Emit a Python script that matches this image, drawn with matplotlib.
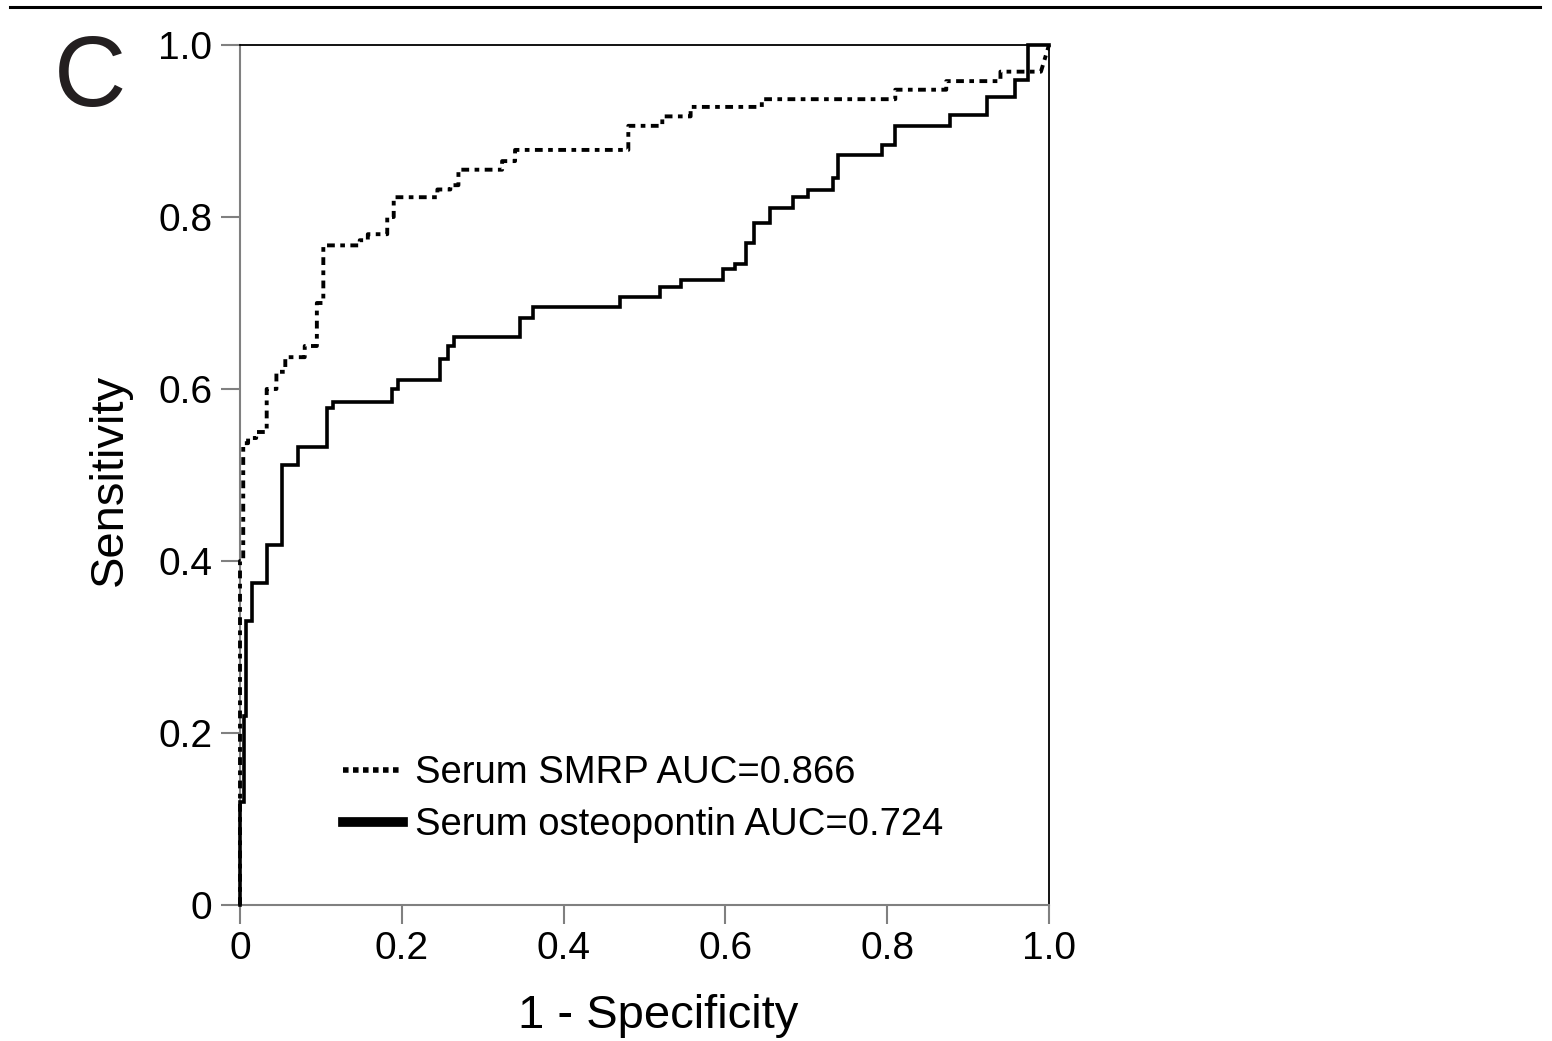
import matplotlib
matplotlib.use("Agg")
import matplotlib.pyplot as plt
from matplotlib.lines import Line2D

plt.rcParams["font.family"] = ["Liberation Sans", "DejaVu Sans"]

# ROC corner points (1 - specificity, sensitivity)
smrp_fpr = [0, 0, 0.004, 0.004, 0.01, 0.01, 0.02, 0.02, 0.033, 0.033, 0.045,
            0.045, 0.056, 0.056, 0.08, 0.08, 0.095, 0.095, 0.103, 0.103,
            0.148, 0.148, 0.158, 0.158, 0.182, 0.182, 0.19, 0.19, 0.244,
            0.244, 0.26, 0.26, 0.27, 0.27, 0.324, 0.324, 0.34, 0.34, 0.48,
            0.48, 0.522, 0.522, 0.557, 0.557, 0.645, 0.645, 0.81, 0.81, 0.873,
            0.873, 0.94, 0.94, 0.99, 1.0]
smrp_tpr = [0, 0.4, 0.4, 0.537, 0.537, 0.543, 0.543, 0.55, 0.55, 0.6, 0.6,
            0.62, 0.62, 0.637, 0.637, 0.65, 0.65, 0.7, 0.7, 0.767, 0.767,
            0.773, 0.773, 0.78, 0.78, 0.8, 0.8, 0.823, 0.823, 0.832, 0.832,
            0.837, 0.837, 0.855, 0.855, 0.865, 0.865, 0.878, 0.878, 0.906,
            0.906, 0.917, 0.917, 0.928, 0.928, 0.937, 0.937, 0.948, 0.948,
            0.958, 0.958, 0.969, 0.969, 1.0]

opn_fpr = [0, 0, 0.005, 0.005, 0.007, 0.007, 0.015, 0.015, 0.033, 0.033,
           0.052, 0.052, 0.072, 0.072, 0.108, 0.108, 0.115, 0.115, 0.188,
           0.188, 0.195, 0.195, 0.247, 0.247, 0.257, 0.257, 0.265, 0.265,
           0.346, 0.346, 0.362, 0.362, 0.47, 0.47, 0.519, 0.519, 0.545, 0.545,
           0.597, 0.597, 0.612, 0.612, 0.625, 0.625, 0.635, 0.635, 0.655,
           0.655, 0.684, 0.684, 0.702, 0.702, 0.733, 0.733, 0.739, 0.739,
           0.794, 0.794, 0.81, 0.81, 0.878, 0.878, 0.923, 0.923, 0.958, 0.958,
           0.974, 0.974, 1.0]
opn_tpr = [0, 0.12, 0.12, 0.22, 0.22, 0.33, 0.33, 0.374, 0.374, 0.419, 0.419,
           0.512, 0.512, 0.533, 0.533, 0.578, 0.578, 0.585, 0.585, 0.6, 0.6,
           0.61, 0.61, 0.635, 0.635, 0.65, 0.65, 0.66, 0.66, 0.682, 0.682,
           0.695, 0.695, 0.707, 0.707, 0.719, 0.719, 0.727, 0.727, 0.74, 0.74,
           0.745, 0.745, 0.77, 0.77, 0.793, 0.793, 0.81, 0.81, 0.823, 0.823,
           0.831, 0.831, 0.845, 0.845, 0.872, 0.872, 0.884, 0.884, 0.906,
           0.906, 0.919, 0.919, 0.94, 0.94, 0.959, 0.959, 1.0, 1.0]

labels = ["Serum SMRP AUC=0.866", "Serum osteopontin AUC=0.724"]
ticks = [0, 0.2, 0.4, 0.6, 0.8, 1.0]
tick_labels = ["0", "0.2", "0.4", "0.6", "0.8", "1.0"]

W, H = 1552, 1041
fig = plt.figure(figsize=(W / 100, H / 100), dpi=100)
ax = fig.add_axes([240 / W, 1 - 905 / H, 809 / W, 860 / H])

dots = (0, (2.0, 1.4, 1.2, 1.4))
ax.plot(smrp_fpr, smrp_tpr, color="black", lw=2.8, linestyle=dots,
        clip_on=False, zorder=3)
ax.plot(opn_fpr, opn_tpr, color="black", lw=2.6, solid_joinstyle="miter",
        clip_on=False, zorder=3)

ax.set_xlim(0, 1)
ax.set_ylim(0, 1)
ax.set_xticks(ticks)
ax.set_xticklabels(tick_labels)
ax.set_yticks(ticks)
ax.set_yticklabels(tick_labels)
ax.tick_params(direction="out", length=14, width=1.5, color="#808080",
               labelsize=28, pad=5)
ax.tick_params(axis="y", pad=6)

for side in ["left", "bottom"]:
    ax.spines[side].set_color("#808080")
    ax.spines[side].set_linewidth(1.5)
for side in ["top", "right"]:
    ax.spines[side].set_color("black")
    ax.spines[side].set_linewidth(1.3)

handles = [Line2D([], [], color="black", lw=4, linestyle=(0, (1, 0.8))),
           Line2D([], [], color="black", lw=7)]
ax.legend(handles, labels, loc="lower left", bbox_to_anchor=(0.127, 0.072),
          frameon=False, fontsize=27.5, handlelength=1.58, handletextpad=0.3,
          labelspacing=0.42, borderpad=0, borderaxespad=0)

fig.text(110 / W, 1 - 480 / H, "Sensitivity", rotation=90, fontsize=34,
         ha="center", va="center")
fig.text(658 / W, 1 - 1016 / H, "1 - Specificity", fontsize=34,
         ha="center", va="center")
fig.text(90 / W, 1 - 80 / H, "C", fontsize=72, color="#231f20",
         ha="center", va="center")

fig.add_artist(Line2D([10 / W, 1540 / W], [1 - 6.5 / H, 1 - 6.5 / H],
                      color="black", lw=2.2, transform=fig.transFigure))

fig.savefig("out.png", dpi=100)
